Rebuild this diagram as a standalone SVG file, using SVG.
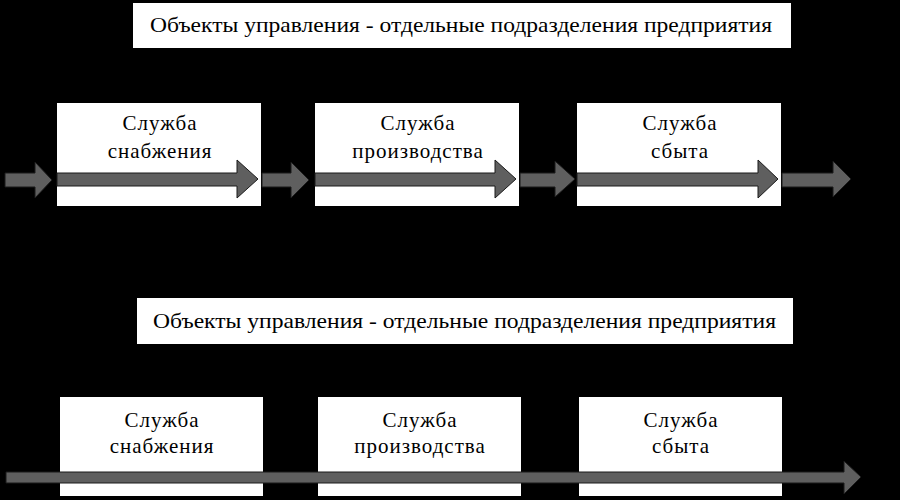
<svg xmlns="http://www.w3.org/2000/svg" width="900" height="500" viewBox="0 0 900 500">
<style>
.box{fill:#ffffff;stroke:none}
.t{font-family:"Liberation Serif","DejaVu Serif",serif;font-size:21px;letter-spacing:1px;fill:#000;text-anchor:middle}
.b{font-family:"Liberation Serif","DejaVu Serif",serif;font-size:21px;fill:#000}
.arr{fill:#5f5f5f;stroke:#1a1a1a;stroke-width:1}
</style>
<rect x="0" y="0" width="900" height="500" fill="#000"/>
<g id="banner-top">
<rect class="box" x="133" y="3" width="658" height="45"/>
<text class="b" x="150" y="32" textLength="622" lengthAdjust="spacingAndGlyphs">Объекты управления - отдельные подразделения предприятия</text>
</g>
<g id="node-top-1">
<rect class="box" x="57" y="103" width="204" height="103"/>
<text class="t" x="160" y="130">Служба</text>
<text class="t" x="160" y="158">снабжения</text>
</g>
<g id="node-top-2">
<rect class="box" x="315" y="103" width="204" height="103"/>
<text class="t" x="418" y="130">Служба</text>
<text class="t" x="418" y="158">производства</text>
</g>
<g id="node-top-3">
<rect class="box" x="577" y="103" width="204" height="103"/>
<text class="t" x="680" y="130">Служба</text>
<text class="t" x="680" y="158">сбыта</text>
</g>
<g id="banner-bottom">
<rect class="box" x="137" y="298" width="656" height="46"/>
<text class="b" x="153" y="328" textLength="623" lengthAdjust="spacingAndGlyphs">Объекты управления - отдельные подразделения предприятия</text>
</g>
<g id="node-bottom-1">
<rect class="box" x="60" y="397" width="203" height="99"/>
<text class="t" x="162" y="427">Служба</text>
<text class="t" x="162" y="453">снабжения</text>
</g>
<g id="node-bottom-2">
<rect class="box" x="318" y="397" width="203" height="99"/>
<text class="t" x="420" y="427">Служба</text>
<text class="t" x="420" y="453">производства</text>
</g>
<g id="node-bottom-3">
<rect class="box" x="579" y="397" width="203" height="99"/>
<text class="t" x="681" y="427">Служба</text>
<text class="t" x="681" y="453">сбыта</text>
</g>
<g id="connectors">
<path class="arr" d="M5,173 H35 V162 L52,180 L35,198 V187 H5 Z"/>
<path class="arr" d="M57,173 H237 V160 L258,179 L237,198 V186 H57 Z"/>
<path class="arr" d="M262,173 H291 V162 L309,180 L291,198 V187 H262 Z"/>
<path class="arr" d="M315,173 H495 V160 L516,179 L495,198 V186 H315 Z"/>
<path class="arr" d="M520,173 H555 V161 L575,179 L555,197 V187 H520 Z"/>
<path class="arr" d="M577,173 H758 V160 L778,179 L758,198 V186 H577 Z"/>
<path class="arr" d="M782,173 H833 V161 L851,179 L833,197 V187 H782 Z"/>
<path class="arr" d="M6,472 H844 V461 L861,477 L844,494 V483 H6 Z"/>
</g>
</svg>
